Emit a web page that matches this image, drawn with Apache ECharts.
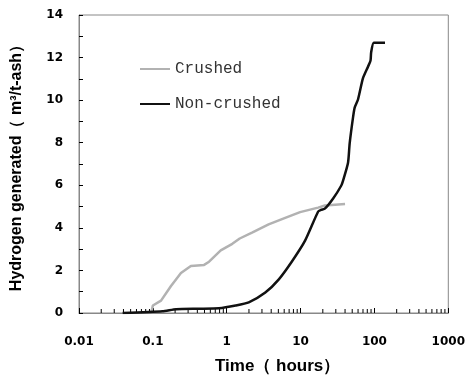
<!DOCTYPE html>
<html>
<head>
<meta charset="utf-8">
<script src="https://cdn.jsdelivr.net/npm/echarts@6/dist/echarts.min.js"></script>
<style>
  html, body { margin: 0; padding: 0; background: #fff; }
  #main { width: 468px; height: 380px; }
</style>
</head>
<body>
<div id="main"></div>
<script>
// time in hours (log axis), hydrogen in m3/t-ash
const crushedTime = [0.095, 0.1, 0.129, 0.176, 0.24, 0.327, 0.494, 0.577, 0.83, 1.19, 1.5, 2.2, 3.69, 6.19, 9.85, 17.3, 21.3, 40];
const crushedH = [0, 0.35, 0.58, 1.27, 1.88, 2.21, 2.26, 2.41, 2.94, 3.25, 3.5, 3.78, 4.16, 4.47, 4.74, 4.95, 5.05, 5.12];

const nonTime = [0.039, 0.135, 0.206, 0.42, 0.785, 1.32, 1.99, 3.33, 5.04, 7.59, 11.5, 17.3, 19, 21.3, 27.6, 35.6, 37.6, 43.9, 46.2, 51.3, 54, 59.9, 69.8, 81.5, 88.5, 90.3, 98.2, 139];
const nonH = [0, 0.08, 0.18, 0.2, 0.22, 0.35, 0.5, 0.96, 1.57, 2.41, 3.4, 4.77, 4.85, 4.9, 5.38, 5.99, 6.22, 7.06, 7.97, 9.19, 9.65, 10.03, 11.02, 11.56, 11.86, 12.25, 12.7, 12.7];

const xDecades = [0.01, 0.1, 1, 10, 100];
const minorSteps = [2, 3, 4, 5, 6, 7, 8, 9];
const xLabels = ['0.01', '0.1', '1', '10', '100', '1000'];

const minorTicks = [];
xDecades.forEach(d => minorSteps.forEach(k => minorTicks.push([d * k, 0])));

const zip = (a, b) => a.map((v, i) => [v, b[i]]);

const axisColor = '#888';
const labelFont = { fontFamily: 'DejaVu Sans', fontWeight: 'bold', fontSize: 12, color: '#000' };

const chart = echarts.init(document.getElementById('main'));

const option = {
  backgroundColor: '#fff',
  animation: false,
  grid: {
    left: 79, top: 15, right: 17, bottom: 59,
    show: true, borderColor: axisColor, borderWidth: 1
  },
  legend: {
    orient: 'vertical',
    left: 140,
    top: 61,
    padding: 0,
    icon: 'rect',
    itemWidth: 30,
    itemHeight: 2,
    itemGap: 19,
    textStyle: { fontFamily: 'Liberation Mono', fontSize: 16, color: '#333' },
    data: ['Crushed', 'Non-crushed']
  },
  xAxis: {
    type: 'log',
    logBase: 10,
    min: 0.01,
    max: 1000,
    name: 'Time（ hours）',
    nameLocation: 'middle',
    nameGap: 45,
    nameTextStyle: { fontFamily: 'Liberation Sans', fontWeight: 'bold', fontSize: 17, color: '#000', padding: [0, 0, 0, 28] },
    axisLine: { lineStyle: { color: axisColor } },
    axisTick: { inside: true, length: 5, lineStyle: { color: '#000' } },
    axisLabel: Object.assign({ margin: 23, formatter: (v) => xLabels[Math.round(Math.log10(v)) + 2] }, labelFont),
    splitLine: { show: false }
  },
  yAxis: {
    type: 'value',
    min: 0,
    max: 14,
    interval: 2,
    name: 'Hydrogen generated（ m³/t-ash）',
    nameLocation: 'middle',
    nameGap: 54,
    nameTextStyle: { fontFamily: 'Liberation Sans', fontWeight: 'bold', fontSize: 16, color: '#000' },
    axisLine: { show: true, lineStyle: { color: axisColor } },
    axisTick: { inside: true, length: 4, lineStyle: { color: '#000' } },
    minorTick: { show: true, splitNumber: 2, length: 4, lineStyle: { color: '#000' } },
    axisLabel: Object.assign({ margin: 16 }, labelFont),
    splitLine: { show: false }
  },
  series: [
    {
      name: 'Crushed',
      type: 'line',
      symbol: 'none',
      lineStyle: { color: '#b2b2b2', width: 2.5 },
      itemStyle: { color: '#b2b2b2' },
      data: zip(crushedTime, crushedH)
    },
    {
      name: 'Non-crushed',
      type: 'line',
      symbol: 'none',
      smooth: 0.2,
      lineStyle: { color: '#111', width: 2.5 },
      itemStyle: { color: '#111' },
      data: zip(nonTime, nonH)
    },
    {
      // minor ticks of the log axis at 2..9 in each decade
      type: 'custom',
      silent: true,
      data: minorTicks,
      renderItem: (params, api) => {
        const p = api.coord([api.value(0), 0]);
        return {
          type: 'line',
          shape: { x1: p[0], y1: p[1], x2: p[0], y2: p[1] - 4 },
          style: { stroke: '#000', lineWidth: 1 }
        };
      }
    }
  ]
};

chart.setOption(option);
</script>
</body>
</html>
